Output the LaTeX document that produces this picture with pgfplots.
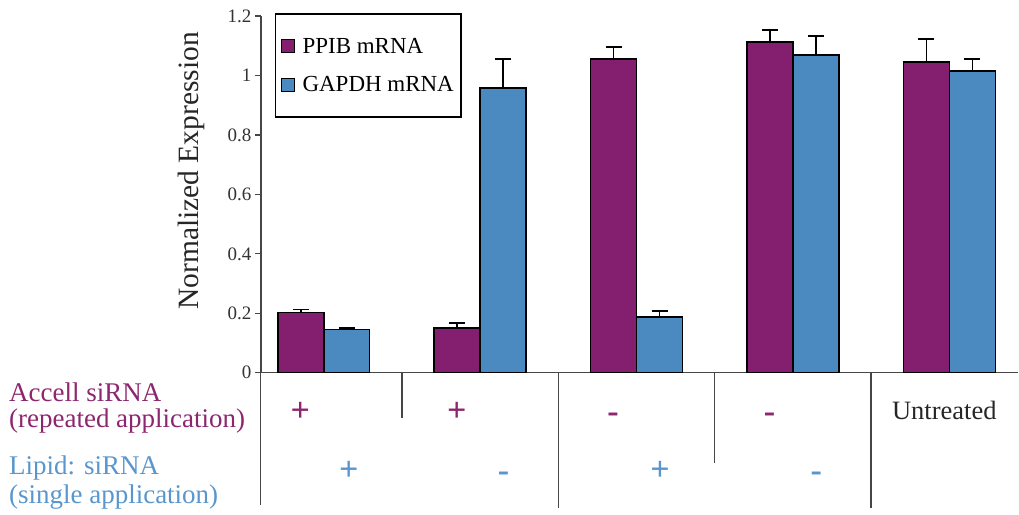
\documentclass[border=0pt]{standalone}
\usepackage{pgfplots}
\pgfplotsset{compat=1.18}
\usepackage{pgfplotstable}
\usepackage{fontspec}
\setmainfont{Liberation Serif}
\definecolor{ppib}{RGB}{132,30,110}
\definecolor{gapdh}{RGB}{75,138,192}
\definecolor{ppibtxt}{RGB}{140,38,110}
\definecolor{gapdhtxt}{RGB}{88,150,205}
\definecolor{axisgray}{RGB}{70,70,70}

\pgfplotstableread{
x y err
0 0.202 0.010
1 0.151 0.016
2 1.055 0.040
3 1.113 0.040
4 1.045 0.078
}\ppibdata
\pgfplotstableread{
x y err
0 0.145 0.006
1 0.958 0.097
2 0.188 0.020
3 1.068 0.065
4 1.015 0.040
}\gapdhdata

\begin{document}
\begin{tikzpicture}
\begin{axis}[
  scale only axis, width=758pt, height=357pt,
  xmin=-0.4026, xmax=4.4409, ymin=0, ymax=1.2,
  ybar=0pt, bar width=46pt,
  axis lines=left, axis line style={-, line width=1.5pt, color=axisgray},
  xtick=\empty, ytick={0,0.2,0.4,0.6,0.8,1,1.2},
  tick align=outside, major tick length=6pt,
  tick style={line width=1.2pt, color=axisgray},
  yticklabel style={font=\fontsize{19}{22}\selectfont, /pgf/number format/assume math mode=true, text=black!80},
  ylabel={Normalized Expression},
  ylabel style={at={(axis description cs:-0.092,0.566)}, anchor=center, font=\fontsize{29.5}{32}\selectfont, text=black!85},
  clip=false,
  legend cell align=left,
  legend image code/.code={\draw[#1, draw=black, line width=1pt] (0pt,-6.5pt) rectangle (13pt,6.5pt);},
  legend style={at={(axis description cs:0.0185,1.008)}, anchor=north west, draw=black, line width=1.5pt,
    font=\fontsize{23}{27}\selectfont, inner xsep=5pt, inner ysep=22pt, row sep=18pt,
    /tikz/every odd column/.append style={column sep=6pt}},
]
\addplot[fill=ppib, draw=black, line width=1.5pt,
  error bars/.cd, y dir=plus, y explicit,
  error bar style={line width=1.5pt, black},
  error mark options={rotate=90, mark size=8pt, line width=1.5pt, black}]
  table[x=x, y=y, y error=err]{\ppibdata};
\addlegendentry{PPIB mRNA\hspace{14pt}}
\addplot[fill=gapdh, draw=black, line width=1.5pt,
  error bars/.cd, y dir=plus, y explicit,
  error bar style={line width=1.5pt, black},
  error mark options={rotate=90, mark size=8pt, line width=1.5pt, black}]
  table[x=x, y=y, y error=err]{\gapdhdata};
\addlegendentry{GAPDH mRNA\hspace{14pt}}

% table lines below the axis
\draw[axisgray, line width=1.3pt] (axis cs:-0.4026,0) -- (axis cs:-0.4026,-0.444);
\draw[axisgray, line width=1.3pt] (axis cs:0.5,0) -- (axis cs:0.5,-0.151);
\draw[axisgray, line width=1.3pt] (axis cs:1.5,0) -- (axis cs:1.5,-0.454);
\draw[axisgray, line width=1.3pt] (axis cs:2.5,0) -- (axis cs:2.5,-0.303);
\draw[axisgray, line width=1.3pt] (axis cs:3.5,0) -- (axis cs:3.5,-0.454);

% row labels
\node[anchor=west, text=ppibtxt, font=\fontsize{27}{30}\selectfont, inner sep=0pt] at (axis cs:-2.013,-0.067) {Accell siRNA};
\node[anchor=west, text=ppibtxt, font=\fontsize{27}{30}\selectfont, inner sep=0pt] at (axis cs:-2.013,-0.161) {(repeated application)};
\node[anchor=west, text=gapdhtxt, font=\fontsize{27}{30}\selectfont, inner sep=0pt] at (axis cs:-2.013,-0.319) {Lipid: siRNA};
\node[anchor=west, text=gapdhtxt, font=\fontsize{27}{30}\selectfont, inner sep=0pt] at (axis cs:-2.013,-0.417) {(single application)};

% row 1 symbols
\node[anchor=base, text=ppibtxt, font=\bfseries\fontsize{34}{36}\selectfont] at (axis cs:-0.15,-0.163) {+};
\node[anchor=base, text=ppibtxt, font=\bfseries\fontsize{34}{36}\selectfont] at (axis cs:0.85,-0.163) {+};
\node[anchor=base, text=ppibtxt, font=\bfseries\fontsize{34}{36}\selectfont] at (axis cs:1.85,-0.168) {-};
\node[anchor=base, text=ppibtxt, font=\bfseries\fontsize{34}{36}\selectfont] at (axis cs:2.85,-0.168) {-};
\node[text=black!85, font=\fontsize{26.5}{28}\selectfont] at (axis cs:3.968,-0.127) {Untreated};
% row 2 symbols
\node[anchor=base, text=gapdhtxt, font=\bfseries\fontsize{34}{36}\selectfont] at (axis cs:0.16,-0.361) {+};
\node[anchor=base, text=gapdhtxt, font=\bfseries\fontsize{34}{36}\selectfont] at (axis cs:1.15,-0.366) {-};
\node[anchor=base, text=gapdhtxt, font=\bfseries\fontsize{34}{36}\selectfont] at (axis cs:2.15,-0.361) {+};
\node[anchor=base, text=gapdhtxt, font=\bfseries\fontsize{34}{36}\selectfont] at (axis cs:3.15,-0.366) {-};

% fixed bounding box
\path (axis cs:-2.0703,1.2538) rectangle (axis cs:4.4409,-0.4773);
\end{axis}
\end{tikzpicture}
\end{document}
